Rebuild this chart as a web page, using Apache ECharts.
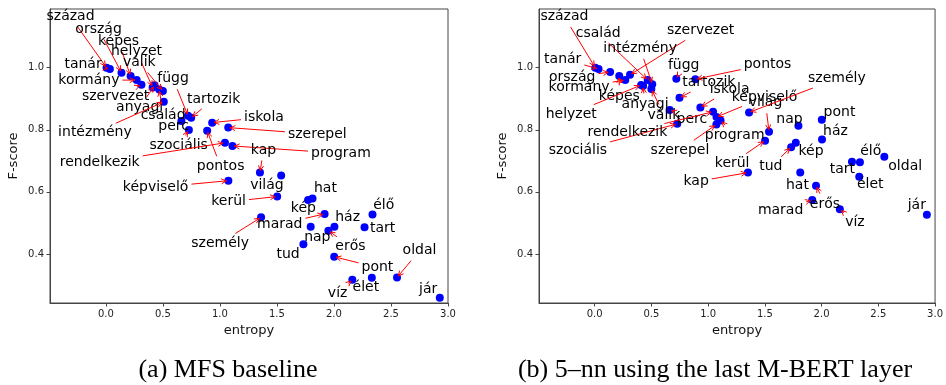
<!DOCTYPE html>
<html>
<head>
<meta charset="utf-8">
<script src="https://cdn.jsdelivr.net/npm/echarts@6/dist/echarts.min.js"></script>
<style>
  html, body { margin: 0; padding: 0; background: #fff; }
  #chart { width: 946px; height: 385px; }
</style>
</head>
<body>
<div id="chart"></div>
<script>
const words = ['század', 'tanár', 'ország', 'képes', 'kormány', 'szervezet', 'helyzet', 'anyagi', 'család', 'válik',
  'intézmény', 'függ', 'tartozik', 'perc', 'szociális', 'pontos', 'iskola', 'szerepel', 'rendelkezik', 'program',
  'képviselő', 'kap', 'világ', 'kerül', 'kép', 'hat', 'marad', 'személy', 'nap', 'ház',
  'erős', 'tart', 'élő', 'tud', 'pont', 'oldal', 'víz', 'élet', 'jár']

const entropy = [0.006, 0.035, 0.137, 0.217, 0.270, 0.312, 0.410, 0.427, 0.468, 0.500,
  0.508, 0.720, 0.748, 0.662, 0.728, 0.888, 0.932, 1.073, 1.044, 1.110,
  1.074, 1.351, 1.537, 1.502, 1.773, 1.812, 1.918, 1.361, 1.796, 2.004,
  1.951, 2.268, 2.338, 1.732, 2.002, 2.553, 2.161, 2.332, 2.928]

// (a) MFS baseline
const fMfs = [1.0, 0.996, 0.984, 0.973, 0.960, 0.945, 0.936, 0.943, 0.930, 0.925,
  0.890, 0.845, 0.839, 0.828, 0.799, 0.797, 0.823, 0.807, 0.758, 0.748,
  0.636, 0.662, 0.653, 0.585, 0.574, 0.579, 0.529, 0.518, 0.488, 0.488,
  0.475, 0.486, 0.527, 0.431, 0.391, 0.324, 0.317, 0.323, 0.259]

// (b) 5-nn, last M-BERT layer
const fKnn = [1.0, 0.996, 0.986, 0.973, 0.960, 0.977, 0.944, 0.941, 0.960, 0.931,
  0.947, 0.964, 0.903, 0.864, 0.819, 0.963, 0.872, 0.817, 0.858, 0.830,
  0.841, 0.662, 0.794, 0.765, 0.758, 0.662, 0.574, 0.856, 0.813, 0.769,
  0.620, 0.697, 0.695, 0.744, 0.832, 0.713, 0.544, 0.649, 0.526]

// annotation text anchors (data units)
const labMfsX = [-0.310, -0.200, -0.064, 0.110, -0.149, 0.085, 0.269, 0.296, 0.502, 0.293,
  -0.096, 0.589, 0.945, 0.594, 0.638, 1.006, 1.386, 1.854, -0.054, 2.061,
  0.436, 1.382, 1.412, 1.076, 1.732, 1.925, 1.525, 1.002, 1.854, 2.120,
  2.144, 2.427, 2.436, 1.598, 2.381, 2.750, 2.032, 2.280, 2.826]
const labMfsY = [1.164, 1.011, 1.124, 1.084, 0.960, 0.909, 1.052, 0.872, 0.848, 1.017,
  0.791, 0.964, 0.899, 0.810, 0.749, 0.681, 0.840, 0.786, 0.694, 0.724,
  0.614, 0.735, 0.622, 0.568, 0.547, 0.612, 0.496, 0.435, 0.454, 0.518,
  0.424, 0.481, 0.555, 0.400, 0.356, 0.411, 0.273, 0.291, 0.286]
const labKnnX = [-0.266, -0.281, -0.198, 0.218, -0.137, 0.934, -0.206, 0.445, 0.032, 0.611,
  0.401, 0.785, 1.006, 0.857, -0.147, 1.524, 1.190, 0.752, 0.289, 1.234,
  1.497, 0.895, 1.506, 1.212, 1.907, 1.787, 1.639, 2.135, 1.717, 2.122,
  2.030, 2.183, 2.433, 1.553, 2.158, 2.737, 2.294, 2.429, 2.839]
const labKnnY = [1.164, 1.028, 0.969, 0.909, 0.937, 1.119, 0.851, 0.883, 1.111, 0.848,
  1.062, 1.006, 0.952, 0.835, 0.733, 1.012, 0.930, 0.735, 0.791, 0.783,
  0.905, 0.633, 0.887, 0.692, 0.729, 0.622, 0.542, 0.964, 0.832, 0.796,
  0.561, 0.673, 0.729, 0.681, 0.856, 0.681, 0.501, 0.624, 0.555]

const xTicks = [0, 0.5, 1, 1.5, 2, 2.5, 3]
const yTicks = [0.4, 0.6, 0.8, 1.0]

const FONT = '14px "DejaVu Sans"'
const measure = document.createElement('canvas').getContext('2d')
measure.font = FONT

// text + red "->" arrow, clipped at the text box like matplotlib annotate
function renderAnnot(params, api) {
  const t = api.coord([api.value(0), api.value(1)])
  const p = api.coord([api.value(2), api.value(3)])
  const word = words[api.value(4)]
  const w = measure.measureText(word).width + 2
  const h = 17
  const dx = p[0] - t[0], dy = p[1] - t[1]
  const len = Math.hypot(dx, dy)
  const children = []
  const sx = dx !== 0 ? (w / 2) / Math.abs(dx) : Infinity
  const sy = dy !== 0 ? (h / 2) / Math.abs(dy) : Infinity
  const s = Math.min(sx, sy)
  const ux = dx / len, uy = dy / len
  const a = [t[0] + dx * s + ux * 2, t[1] + dy * s + uy * 2]
  const b = [p[0] - ux * 2, p[1] - uy * 2]
  if ((b[0] - a[0]) * ux + (b[1] - a[1]) * uy > 1) {
    const red = { stroke: '#ff0000', lineWidth: 1, fill: null }
    children.push({ type: 'line', shape: { x1: a[0], y1: a[1], x2: b[0], y2: b[1] }, style: red })
    const hl = 5, hw = 2.5
    const bx = b[0] - ux * hl, by = b[1] - uy * hl
    children.push({
      type: 'polyline',
      shape: { points: [[bx - uy * hw, by + ux * hw], b, [bx + uy * hw, by - ux * hw]] },
      style: red
    })
  }
  children.push({
    type: 'text',
    style: { text: word, x: t[0], y: t[1], align: 'center', verticalAlign: 'middle', font: FONT, fill: '#000' }
  })
  return { type: 'group', children }
}

const axisColor = '#444'
const gridBase = { top: 9, width: 398, height: 294, show: true, borderColor: axisColor, borderWidth: 1 }

function xAxisFor(idx) {
  return {
    gridIndex: idx, type: 'value', min: -0.49, max: 3.0,
    name: 'entropy', nameLocation: 'middle', nameGap: 20,
    nameTextStyle: { fontFamily: 'DejaVu Sans', fontSize: 13, color: '#111' },
    axisLine: { show: true, onZero: false, lineStyle: { color: axisColor, width: 1 } },
    axisTick: { show: true, length: 3.5, customValues: xTicks, lineStyle: { color: axisColor } },
    axisLabel: {
      customValues: xTicks, margin: 6, fontFamily: 'DejaVu Sans', fontSize: 10, color: '#222',
      formatter: v => v.toFixed(1)
    },
    splitLine: { show: false }
  }
}
function yAxisFor(idx) {
  return {
    gridIndex: idx, type: 'value', min: 0.242, max: 1.189,
    name: 'F-score', nameLocation: 'middle', nameGap: 30,
    nameTextStyle: { fontFamily: 'DejaVu Sans', fontSize: 13, color: '#111' },
    axisLine: { show: true, onZero: false, lineStyle: { color: axisColor, width: 1 } },
    axisTick: { show: true, length: 3.5, customValues: yTicks, lineStyle: { color: axisColor } },
    axisLabel: {
      customValues: yTicks, margin: 6, fontFamily: 'DejaVu Sans', fontSize: 10, color: '#222',
      formatter: v => v.toFixed(1)
    },
    splitLine: { show: false }
  }
}

function panelSeries(idx, fScore, labX, labY) {
  return [
    {
      type: 'scatter', xAxisIndex: idx, yAxisIndex: idx,
      data: entropy.map((x, i) => [x, fScore[i]]),
      symbolSize: 8, itemStyle: { color: '#0000ff', opacity: 1 }, z: 3, silent: true
    },
    {
      type: 'custom', xAxisIndex: idx, yAxisIndex: idx,
      data: words.map((w, i) => [labX[i], labY[i], entropy[i], fScore[i], i]),
      encode: { x: [0, 2], y: [1, 3] },
      renderItem: renderAnnot, clip: false, silent: true, z: 5
    }
  ]
}

const chart = echarts.init(document.getElementById('chart'), null, { renderer: 'canvas' })

chart.setOption({
  animation: false,
  backgroundColor: '#fff',
  grid: [
    Object.assign({ left: 50 }, gridBase),
    Object.assign({ left: 539 }, gridBase)
  ],
  xAxis: [xAxisFor(0), xAxisFor(1)],
  yAxis: [yAxisFor(0), yAxisFor(1)],
  series: [
    ...panelSeries(0, fMfs, labMfsX, labMfsY),
    ...panelSeries(1, fKnn, labKnnX, labKnnY)
  ],
  graphic: [
    {
      type: 'text', x: 228, y: 370,
      style: { text: '(a) MFS baseline', align: 'center', verticalAlign: 'middle', font: '26px "Liberation Serif"', fill: '#000' }
    },
    {
      type: 'text', x: 715, y: 370,
      style: { text: '(b) 5–nn using the last M-BERT layer', align: 'center', verticalAlign: 'middle', font: '26px "Liberation Serif"', fill: '#000' }
    }
  ]
})

window.addEventListener('resize', () => chart.resize())
</script>
</body>
</html>
